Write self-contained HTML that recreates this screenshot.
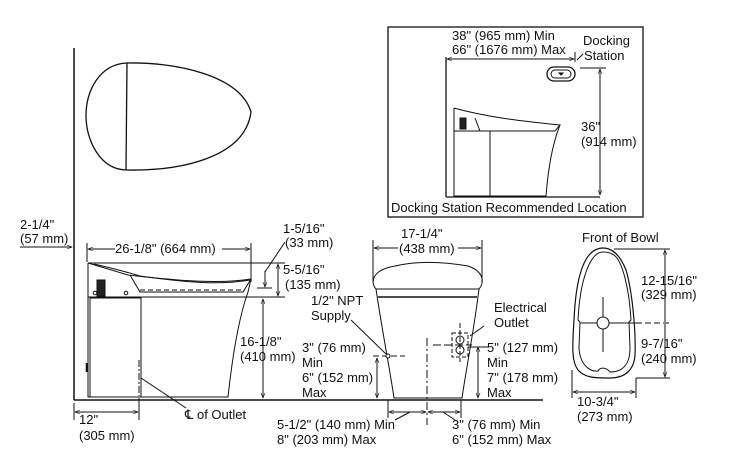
<!DOCTYPE html>
<html><head><meta charset="utf-8"><style>
html,body{margin:0;padding:0;background:#fff;width:746px;height:459px;overflow:hidden}
svg{display:block}
text{font-family:"Liberation Sans",Arial,sans-serif;font-size:13px;fill:#111}
</style></head><body>
<svg width="746" height="459" viewBox="0 0 746 459" xmlns="http://www.w3.org/2000/svg">
<defs>
<marker id="a" viewBox="0 0 10 10" refX="10" refY="5" markerWidth="6" markerHeight="5" orient="auto-start-reverse"><path d="M0,1 L10,5 L0,9" fill="none" stroke="#111" stroke-width="1.2"/></marker>
</defs>
<g stroke="#111" fill="none" stroke-width="1">
<line x1="74" y1="48" x2="74" y2="400" stroke-width="1.5"/>
<line x1="74" y1="400" x2="543" y2="400" stroke-width="1.5"/>
<path d="M127,63 C175,62 240,75 251,112 C245,158 180,171 127,170 C100,170 86,140 86,116 C86,90 100,64 127,63 Z" stroke-width="1.3"/>
<line x1="127" y1="63" x2="126" y2="170" stroke-width="1.3"/>
<path d="M88,263 L88,397 L228,397 C232,360 238,320 248,292 L251,279"/>
<path d="M88,263 L128,275 C180,281 220,284 251,279 L243,292 L140,292 L130,275"/>
<path d="M94,264 C120,270 130,273 140,276 C190,283 220,285 250,280"/>
<line x1="88" y1="297" x2="248" y2="297"/>
<line x1="140" y1="290" x2="245" y2="290" stroke-dasharray="5,3"/>
<rect x="90" y="298" width="51" height="99"/>
<rect x="97" y="280" width="8" height="16" fill="#222"/>
<circle cx="95" cy="293" r="1.8"/><circle cx="126" cy="293" r="1.8"/>
<line x1="87" y1="363" x2="87" y2="372" stroke-width="2.5"/>
<line x1="88" y1="263" x2="285" y2="263"/>
<line x1="248" y1="297" x2="285" y2="297"/>
<line x1="87" y1="243" x2="87" y2="262"/><line x1="251" y1="243" x2="251" y2="282"/>
<line x1="88" y1="249" x2="115" y2="249" marker-start="url(#a)"/>
<line x1="222" y1="249" x2="250" y2="249" marker-end="url(#a)"/>
<line x1="278" y1="264" x2="278" y2="296" marker-start="url(#a)" marker-end="url(#a)"/>
<line x1="263" y1="299" x2="263" y2="398" marker-start="url(#a)" marker-end="url(#a)"/>
<line x1="265" y1="271" x2="265" y2="287" marker-end="url(#a)"/>
<line x1="257" y1="288" x2="272" y2="288"/>
<line x1="265" y1="272" x2="285" y2="242"/>
<line x1="20" y1="247" x2="72" y2="247" marker-end="url(#a)"/>
<line x1="139" y1="360" x2="139" y2="396" stroke-dasharray="7,2,2,2"/>
<line x1="74" y1="403" x2="74" y2="420"/><line x1="139" y1="398" x2="139" y2="420"/>
<line x1="75" y1="412" x2="138" y2="412" marker-start="url(#a)" marker-end="url(#a)"/>
<line x1="141" y1="378" x2="186" y2="408"/>
<path d="M376,289 C370,282 372,270 395,266 C420,260 445,262 468,266 C485,272 484,283 479,289 Z"/>
<line x1="376" y1="289" x2="479" y2="289"/>
<line x1="378" y1="297" x2="477" y2="297" stroke-width="1.5"/>
<path d="M376,289 C382,330 390,370 394,398 L462,398 C466,370 474,330 479,289"/>
<line x1="373" y1="240" x2="373" y2="282"/><line x1="482" y1="240" x2="482" y2="282"/>
<line x1="374" y1="248" x2="398" y2="248" marker-start="url(#a)"/>
<line x1="458" y1="248" x2="481" y2="248" marker-end="url(#a)"/>
<line x1="427" y1="338" x2="427" y2="425" stroke-dasharray="8,3,2,3"/>
<line x1="373" y1="356" x2="405" y2="356" stroke-dasharray="6,3"/>
<circle cx="388" cy="356" r="2" fill="#fff"/>
<line x1="386" y1="354" x2="351" y2="320"/>
<line x1="377" y1="358" x2="377" y2="398" marker-start="url(#a)" marker-end="url(#a)"/>
<rect x="452" y="333" width="16" height="24" stroke-dasharray="4,2"/>
<circle cx="460" cy="340" r="4"/><circle cx="460" cy="350" r="4"/>
<line x1="460" y1="323" x2="460" y2="362" stroke-dasharray="5,2"/>
<line x1="433" y1="345" x2="472" y2="345" stroke-dasharray="8,3"/>
<line x1="470" y1="336" x2="484" y2="326"/>
<line x1="478" y1="347" x2="478" y2="398" marker-start="url(#a)" marker-end="url(#a)"/>
<line x1="468" y1="347" x2="488" y2="347"/>
<line x1="388" y1="400" x2="388" y2="418"/><line x1="461" y1="400" x2="461" y2="418"/>
<line x1="389" y1="412" x2="426" y2="412" marker-start="url(#a)" marker-end="url(#a)"/>
<line x1="428" y1="412" x2="460" y2="412" marker-start="url(#a)" marker-end="url(#a)"/>
<line x1="410" y1="412" x2="395" y2="420"/><line x1="443" y1="412" x2="455" y2="420"/>
<path d="M603,248 C585,248 576,275 574,320 C572,350 572,362 578,370 C585,378 595,378 610,378 C625,378 634,370 635,355 C636,330 632,290 626,270 C620,255 612,248 603,248 Z" stroke-width="1.2"/>
<path d="M603,252 C590,252 580,280 578,320 L580,322 L579,348 C580,365 590,372 598,371 C600,367 606,367 610,372 C622,372 630,365 630,348 L629,322 L631,320 C629,285 622,265 617,258 C613,253 608,252 603,252 Z"/>
<line x1="614" y1="249" x2="670" y2="249"/>
<line x1="636" y1="378" x2="670" y2="378"/>
<line x1="665" y1="250" x2="665" y2="322" marker-start="url(#a)"/>
<line x1="665" y1="324" x2="665" y2="377" marker-end="url(#a)"/>
<line x1="580" y1="323" x2="636" y2="323"/>
<line x1="636" y1="323" x2="672" y2="323" stroke-dasharray="6,3"/>
<line x1="603" y1="297" x2="603" y2="352"/>
<circle cx="603" cy="323" r="6" fill="#fff"/>
<line x1="572" y1="370" x2="572" y2="398"/><line x1="636" y1="378" x2="636" y2="398"/>
<line x1="573" y1="392" x2="635" y2="392" marker-start="url(#a)" marker-end="url(#a)"/>
<rect x="388" y="27" width="255" height="190" stroke-width="1.3"/>
<line x1="446" y1="57" x2="446" y2="197" stroke-width="1.3"/>
<line x1="446" y1="197" x2="600" y2="197" stroke-width="1.3"/>
<line x1="447" y1="59" x2="574" y2="59" marker-start="url(#a)" marker-end="url(#a)"/>
<line x1="575" y1="52" x2="575" y2="62"/>
<line x1="577" y1="60" x2="583" y2="54"/>
<rect x="547" y="67" width="28" height="14" rx="7" stroke-width="1.3"/>
<rect x="551" y="70" width="20" height="8" rx="4"/>
<path d="M559,73 L563,73 L561,75 Z" fill="#111"/>
<line x1="580" y1="68" x2="606" y2="68"/>
<line x1="600" y1="69" x2="600" y2="195" marker-start="url(#a)" marker-end="url(#a)"/>
<path d="M454,108 L454,196 L546,196 C548,170 552,145 560,125"/>
<path d="M454,108 C490,118 530,122 560,125 L555,131 L480,131 L475,118"/>
<line x1="454" y1="131" x2="554" y2="131"/>
<line x1="490" y1="131" x2="490" y2="196"/>
<rect x="460" y="118" width="6" height="11" fill="#222"/>
</g>
<g>
<text x="20" y="229">2-1/4"</text><text x="20" y="243">(57 mm)</text>
<text x="115" y="253">26-1/8" (664 mm)</text>
<text x="283" y="233">1-5/16"</text><text x="285" y="247">(33 mm)</text>
<text x="283" y="274">5-5/16"</text><text x="285" y="289">(135 mm)</text>
<text x="240" y="346">16-1/8"</text><text x="240" y="361">(410 mm)</text>
<text x="79" y="424">12"</text><text x="79" y="440">(305 mm)</text>
<text x="185" y="419">℄ of Outlet</text>
<text x="401" y="238">17-1/4"</text><text x="399" y="253">(438 mm)</text>
<text x="311" y="305">1/2" NPT</text><text x="311" y="320">Supply</text>
<text x="302" y="352">3" (76 mm)</text><text x="302" y="367">Min</text>
<text x="302" y="382">6" (152 mm)</text><text x="302" y="397">Max</text>
<text x="494" y="312">Electrical</text><text x="494" y="327">Outlet</text>
<text x="487" y="352">5" (127 mm)</text><text x="487" y="367">Min</text>
<text x="487" y="382">7" (178 mm)</text><text x="487" y="397">Max</text>
<text x="277" y="429">5-1/2" (140 mm) Min</text><text x="277" y="444">8" (203 mm) Max</text>
<text x="452" y="429">3" (76 mm) Min</text><text x="452" y="444">6" (152 mm) Max</text>
<text x="582" y="242">Front of Bowl</text>
<text x="641" y="285">12-15/16"</text><text x="641" y="299">(329 mm)</text>
<text x="641" y="348">9-7/16"</text><text x="641" y="363">(240 mm)</text>
<text x="577" y="406">10-3/4"</text><text x="577" y="421">(273 mm)</text>
<text x="452" y="40">38" (965 mm) Min</text><text x="452" y="54">66" (1676 mm) Max</text>
<text x="583" y="45">Docking</text><text x="584" y="60">Station</text>
<text x="581" y="131">36"</text><text x="581" y="146">(914 mm)</text>
<text x="391" y="212">Docking Station Recommended Location</text>
</g>
</svg>
</body></html>
